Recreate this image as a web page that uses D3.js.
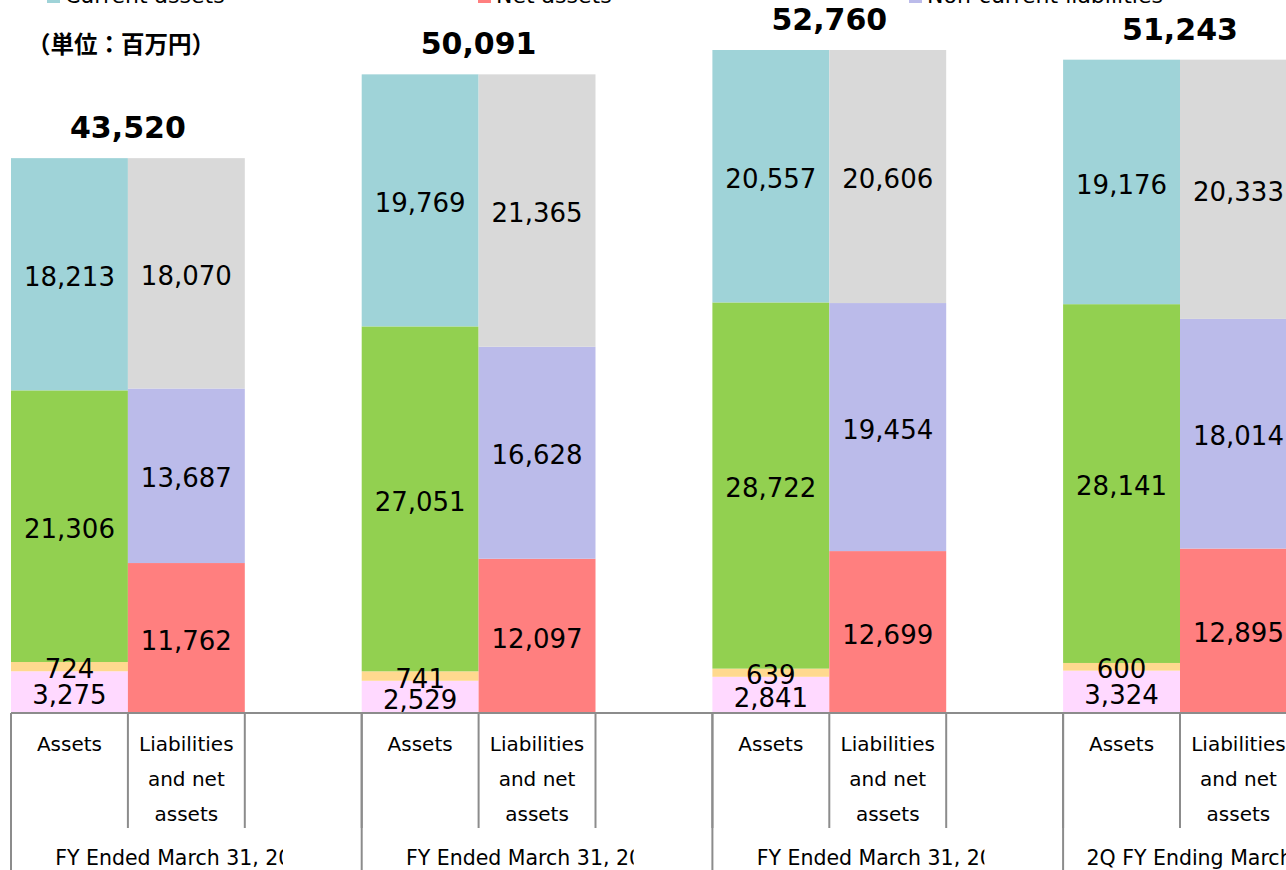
<!DOCTYPE html>
<html>
<head>
<meta charset="utf-8">
<style>
  body { margin: 0; background: #fff; }
  svg text { font-family: "DejaVu Sans", Verdana, sans-serif; fill: #000; }
</style>
</head>
<body>
<script src="https://d3js.org/d3.v7.min.js"></script>
<div id="chart"></div>
<script>
    const width = 1286
    const height = 870

    // data (millions of yen)
    const groups = ["FY Ended March 31, 2021", "FY Ended March 31, 2022", "FY Ended March 31, 2023", "2Q FY Ending March 31, 2024"]
    const bars = ["Assets", "Liabilities and net assets", ""]
    const assetSeries = ["Investments and other assets", "Intangible assets", "Property, plant and equipment", "Current assets"]
    const liabSeries = ["Net assets", "Non-current liabilities", "Current liabilities"]

    const investments = [3275, 2529, 2841, 3324]
    const intangible = [724, 741, 639, 600]
    const property = [21306, 27051, 28722, 28141]
    const currentAssets = [18213, 19769, 20557, 19176]
    const netAssets = [11762, 12097, 12699, 12895]
    const nonCurrentLiab = [13687, 16628, 19454, 18014]
    const currentLiab = [18070, 21365, 20606, 20333]
    const totals = [43520, 50091, 52760, 51243]

    const colors = {
        "Investments and other assets": "#ffd9ff",
        "Intangible assets": "#ffd98f",
        "Property, plant and equipment": "#92d050",
        "Current assets": "#9fd3d8",
        "Net assets": "#ff7f7f",
        "Non-current liabilities": "#bbbbea",
        "Current liabilities": "#d9d9d9"
    }

    const legendRows = [
        ["Property, plant and equipment", "Intangible assets", "Investments and other assets"],
        ["Current assets", "Net assets", "Non-current liabilities"]
    ]

    const plot = { left: 11, top: 50, bottom: 713 }
    const groupWidth = 350.7

    const svg = d3.select("#chart").append("svg").attr("width", width).attr("height", height)

    const x0 = d3.scaleBand().domain(groups)
        .range([plot.left, plot.left + groupWidth * groups.length])
    const x1 = d3.scaleBand().domain(bars).range([0, x0.bandwidth()])
    const y = d3.scaleLinear().domain([0, 52000]).range([plot.bottom, plot.top])

    svg.append("defs").append("clipPath").attr("id", "plotClip")
        .append("rect")
        .attr("x", 0).attr("y", plot.top)
        .attr("width", width).attr("height", plot.bottom - plot.top)

    const valuesOf = {
        "Investments and other assets": investments,
        "Intangible assets": intangible,
        "Property, plant and equipment": property,
        "Current assets": currentAssets,
        "Net assets": netAssets,
        "Non-current liabilities": nonCurrentLiab,
        "Current liabilities": currentLiab
    }

    // build segments
    const segments = []
    groups.forEach((g, i) => {
        [[bars[0], assetSeries], [bars[1], liabSeries]].forEach(([bar, series]) => {
            let base = 0
            series.forEach(s => {
                const v = valuesOf[s][i]
                segments.push({ group: g, bar: bar, series: s, value: v, y0: base, y1: base + v })
                base += v
            })
        })
    })

    const plotG = svg.append("g").attr("clip-path", "url(#plotClip)")

    plotG.selectAll("rect.seg")
        .data(segments)
        .enter()
        .append("rect")
        .attr("class", "seg")
        .attr("x", d => x0(d.group) + x1(d.bar))
        .attr("width", x1.bandwidth())
        .attr("y", d => y(d.y1))
        .attr("height", d => y(d.y0) - y(d.y1))
        .attr("fill", d => colors[d.series])

    const fmt = d3.format(",")

    svg.append("g").selectAll("text")
        .data(segments)
        .enter()
        .append("text")
        .attr("x", d => x0(d.group) + x1(d.bar) + x1.bandwidth() / 2)
        .attr("y", d => {
            const top = Math.max(y(d.y1), plot.top)
            return (top + y(d.y0)) / 2
        })
        .attr("dy", "0.45em")
        .attr("text-anchor", "middle")
        .style("font-size", "26px")
        .text(d => fmt(d.value))

    // totals
    svg.append("g").selectAll("text")
        .data(groups)
        .enter()
        .append("text")
        .attr("x", (g) => x0(g) + x1.bandwidth())
        .attr("y", (g, i) => Math.max(y(totals[i]), plot.top) - 20)
        .attr("text-anchor", "middle")
        .style("font-size", "30px")
        .style("font-weight", "bold")
        .text((g, i) => fmt(totals[i]))

    // axis
    const axisColor = "#8c8c8c"
    const axis = svg.append("g")
    axis.append("line")
        .attr("x1", plot.left).attr("x2", width)
        .attr("y1", plot.bottom).attr("y2", plot.bottom)
        .attr("stroke", axisColor).attr("stroke-width", 2)

    const catLines = { "Assets": ["Assets"], "Liabilities and net assets": ["Liabilities", "and net", "assets"] }

    groups.forEach(g => {
        axis.append("line")
            .attr("x1", x0(g)).attr("x2", x0(g))
            .attr("y1", plot.bottom).attr("y2", height)
            .attr("stroke", axisColor).attr("stroke-width", 2)
        bars.slice(1).forEach(b => {
            axis.append("line")
                .attr("x1", x0(g) + x1(b)).attr("x2", x0(g) + x1(b))
                .attr("y1", plot.bottom).attr("y2", 828)
                .attr("stroke", axisColor).attr("stroke-width", 2)
        })
        const lastX = x0(g) + x1(bars[2]) + x1.bandwidth()
        axis.append("line")
            .attr("x1", lastX).attr("x2", lastX)
            .attr("y1", plot.bottom).attr("y2", 828)
            .attr("stroke", axisColor).attr("stroke-width", 2)

        // bar labels
        bars.slice(0, 2).forEach(b => {
            catLines[b].forEach((line, k) => {
                axis.append("text")
                    .attr("x", x0(g) + x1(b) + x1.bandwidth() / 2)
                    .attr("y", 751 + k * 35)
                    .attr("text-anchor", "middle")
                    .style("font-size", "20px")
                    .text(line)
            })
        })
    })

    // group labels (clipped like the original)
    groups.forEach((g, i) => {
        const clipId = "gclip" + i
        svg.select("defs").append("clipPath").attr("id", clipId)
            .append("rect")
            .attr("x", x0(g)).attr("y", 830)
            .attr("width", 272).attr("height", 40)
        svg.append("text")
            .attr("clip-path", "url(#" + clipId + ")")
            .attr("x", x0(g) + x0.bandwidth() / 2)
            .attr("y", 865)
            .attr("text-anchor", "middle")
            .style("font-size", "20.5px")
            .text(g)
    })

    // unit note
    svg.append("text")
        .attr("x", 27).attr("y", 53)
        .style("font-family", "'Noto Sans CJK JP', sans-serif")
        .style("font-size", "23.5px")
        .style("font-weight", "bold")
        .text("（単位：百万円）")

    // legend (mostly above the visible area)
    const legend = svg.append("g")
    legendRows.forEach((row, r) => {
        const rowY = 3 - (legendRows.length - 1 - r) * 32
        row.forEach((name, c) => {
            const lx = 47 + c * 431
            legend.append("rect")
                .attr("x", lx).attr("y", rowY - 13)
                .attr("width", 13).attr("height", 13)
                .attr("fill", colors[name])
            legend.append("text")
                .attr("x", lx + 18).attr("y", rowY)
                .style("font-size", "22px")
                .text(name)
        })
    })
</script>
</body>
</html>
